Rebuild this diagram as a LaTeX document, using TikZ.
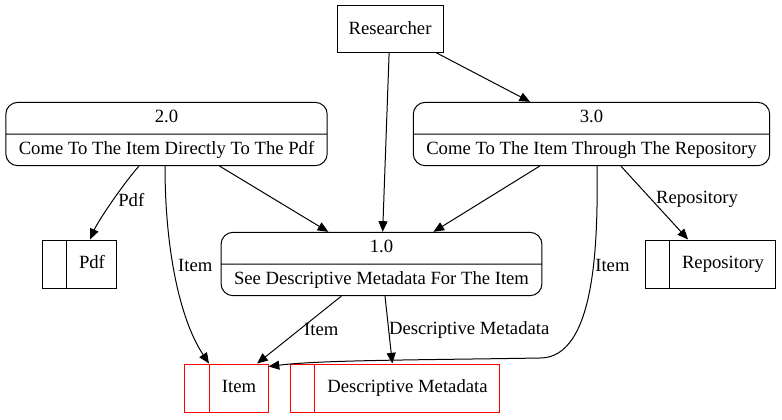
\documentclass[tikz,border=0pt]{standalone}
\usepackage{fontspec}
\setmainfont{Liberation Serif}
\usetikzlibrary{shapes.multipart,arrows.meta,calc}

\tikzset{every picture/.style={line width=0.75pt}}
\tikzset{
  every node/.style={font=\fontsize{14}{17}\selectfont},
  entity/.style={draw, minimum width=79.5pt, minimum height=35.25pt, inner sep=0pt},
  process/.style={draw, rectangle split, rectangle split parts=2, rounded corners=9pt, inner xsep=9.75pt, inner ysep=3pt},
  store/.style={draw, rectangle split, rectangle split horizontal, rectangle split parts=2, inner xsep=9pt, inner ysep=9.5pt},
  redstore/.style={store, draw=red},
  flow/.style={-{Triangle[length=8pt,width=6.75pt]}},
  flowlabel/.style={anchor=west},
}

\begin{document}
\begin{tikzpicture}[x=0.75pt,y=0.75pt,yscale=-1,xscale=1]
\useasboundingbox (0,0) rectangle (782,419);

% External entity
\node[entity] (res) at (390,28.5) {Researcher};

% Processes
\node[process] (p2) at (166.5,134) {\strut 2.0\nodepart{two}\strut Come To The Item Directly To The Pdf};
\node[process] (p3) at (591.5,134) {\strut 3.0\nodepart{two}\strut Come To The Item Through The Repository};
\node[process] (p1) at (381.5,264) {\strut 1.0\nodepart{two}\strut See Descriptive Metadata For The Item};

% Data stores
\node[store] (pdf) at (79.5,264) {\strut\nodepart{two}\strut Pdf};
\node[store] (repo) at (710.5,264) {\strut\nodepart{two}\strut Repository};
\node[redstore] (item) at (226.5,388) {\strut\nodepart{two}\strut Item};
\node[redstore] (meta) at (395,388) {\strut\nodepart{two}\strut Descriptive Metadata};

% Flows
\draw[flow] (res) -- (p1);
\draw[flow] (res) -- (p3);
\draw[flow] (p2) -- (p1);
\draw[flow] (p3) -- (p1);
\draw[flow] (p3) -- node[flowlabel, pos=.45] {Repository} (repo);
\draw[flow] (p1) -- node[flowlabel] {Item} (item);
\draw[flow] (p1) -- node[flowlabel, inner sep=0pt] {Descriptive Metadata} (meta);
\draw[flow] ($(p2.south)+(-27.5,0)$) .. controls (127,179) and (99,219) .. ($(pdf.north)+(10.5,0)$) node[flowlabel, pos=.5] {Pdf};
\draw[flow] ($(p2.south)+(-1.5,0)$) .. controls (165,250) and (180,320) .. ($(item.north)+(-17.5,0)$) node[flowlabel, pos=.43] {Item};
\draw[flow] ($(p3.south)+(5.5,0)$) .. controls (598,240) and (596,358) .. (540,358) node[flowlabel, inner sep=1pt, pos=.4] {Item}
  .. controls (420,360) and (320,360) .. ($(item.north east)+(0,3)$);

\end{tikzpicture}
\end{document}
